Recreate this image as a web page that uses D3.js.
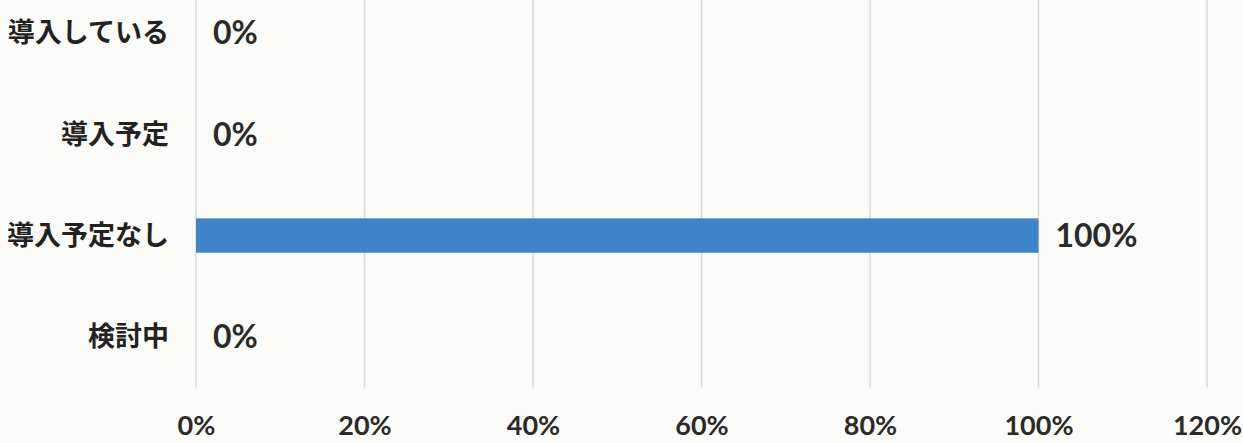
<!DOCTYPE html>
<html><head><meta charset="utf-8">
<script src="https://cdn.jsdelivr.net/npm/d3@7"></script>
<style>
html,body{margin:0;padding:0;background:#fbfbf7;}
svg{display:block;}
</style></head>
<body>
<svg id="chart" width="1243" height="443"></svg>
<script>
const categories = ["導入している", "導入予定", "導入予定なし", "検討中"];
const values = [0, 0, 100, 0];
const tickValues = [0, 20, 40, 60, 80, 100, 120];
const tickLabels = ["0%", "20%", "40%", "60%", "80%", "100%", "120%"];

(function () {
const svg = d3.select("#chart");
const W = 1243, H = 443;
const mLeft = 196, mRight = 1207, mTop = -17.7, mBottom = 387.5;

svg.append("rect").attr("width", W).attr("height", H).attr("fill", "#fbfbf7");

const x = d3.scaleLinear().domain([0, 120]).range([mLeft, mRight]);
const y = d3.scaleBand().domain(categories).range([mTop, mBottom]).paddingInner(0.66).paddingOuter(0.33);

// gridlines
svg.append("g").selectAll("line").data(tickValues).join("line")
  .attr("x1", d => x(d)).attr("x2", d => x(d))
  .attr("y1", 0).attr("y2", mBottom)
  .attr("stroke", "#d9d9d6").attr("stroke-width", 1.5);

// x-axis tick labels
const xAxis = d3.axisBottom(x).tickValues(tickValues)
  .tickFormat((d, i) => tickLabels[i]).tickSize(0).tickPadding(0);
const gx = svg.append("g").attr("transform", `translate(0,${mBottom})`).call(xAxis);
gx.select(".domain").remove();
gx.selectAll("text")
  .attr("dy", null).attr("y", 47)
  .attr("font-family", "Lato, 'Open Sans', sans-serif")
  .attr("font-weight", "bold").attr("font-size", 27).attr("fill", "#2a2a2a");

// bars
svg.append("g").selectAll("rect").data(categories).join("rect")
  .attr("x", x(0))
  .attr("y", d => y(d))
  .attr("width", (d, i) => x(values[i]) - x(0))
  .attr("height", y.bandwidth())
  .attr("fill", "#3d85c8");

// category labels
const yAxis = d3.axisLeft(y).tickSize(0).tickPadding(0);
const gy = svg.append("g").attr("transform", `translate(169,0)`).call(yAxis);
gy.select(".domain").remove();
gy.selectAll("text")
  .attr("font-family", "'Noto Sans CJK JP', sans-serif")
  .attr("font-weight", "bold").attr("font-size", 27).attr("fill", "#222")
  .attr("dy", "0.35em");

// value labels
svg.append("g").selectAll("text").data(categories).join("text")
  .attr("x", (d, i) => x(values[i]) + 17)
  .attr("y", d => y(d) + y.bandwidth() / 2)
  .attr("dy", "0.36em")
  .attr("font-family", "Lato, 'Open Sans', sans-serif")
  .attr("font-weight", "bold").attr("font-size", 32).attr("fill", "#2a2a2a")
  .text((d, i) => values[i] + "%");
})();
</script>
</body></html>
